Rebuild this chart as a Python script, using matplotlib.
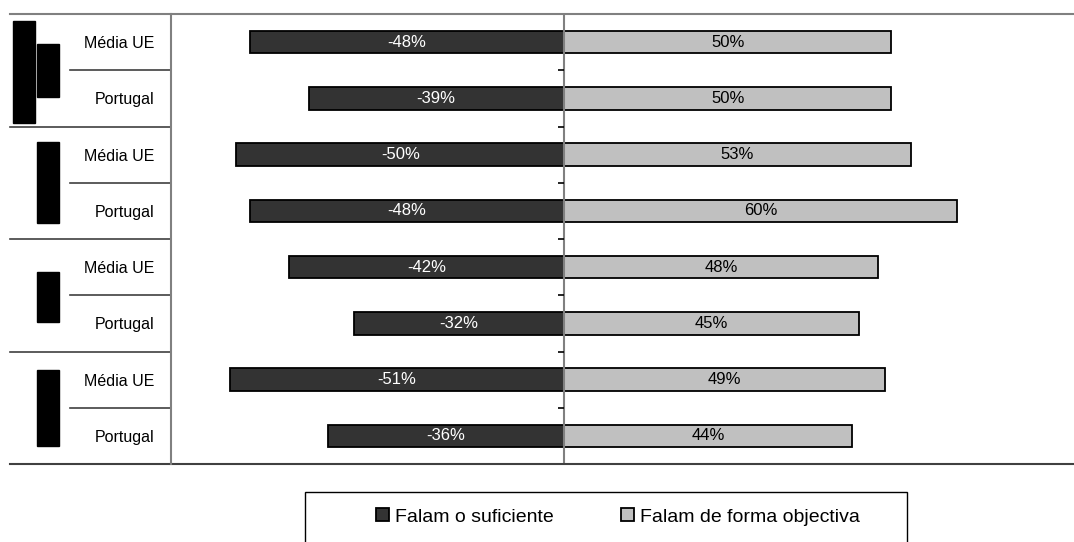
import matplotlib.pyplot as plt
from matplotlib.patches import Rectangle
import matplotlib.transforms as mtransforms

plt.rcParams['font.family'] = ['Liberation Sans', 'DejaVu Sans']

categories = ['Média UE', 'Portugal', 'Média UE', 'Portugal',
              'Média UE', 'Portugal', 'Média UE', 'Portugal']
suficiente = [-48, -39, -50, -48, -42, -32, -51, -36]
objectiva = [50, 50, 53, 60, 48, 45, 49, 44]
series_names = ['Falam o suficiente', 'Falam de forma objectiva']

W, H = 1074, 542
fig = plt.figure(figsize=(W / 100, H / 100), dpi=100)
ax = fig.add_axes([171 / W, 1 - 464 / H, (W - 171) / W, 450 / H])

y = list(range(len(categories)))
b1 = ax.barh(y, suficiente, height=0.4, color='#333333', edgecolor='black',
             linewidth=1.3, label=series_names[0])
b2 = ax.barh(y, objectiva, height=0.4, color='#c0c0c0', edgecolor='black',
             linewidth=1.3, label=series_names[1])
ax.bar_label(b1, labels=[f'{v}%' for v in suficiente], label_type='center',
             color='white', fontsize=12)
ax.bar_label(b2, labels=[f'{v}%' for v in objectiva], label_type='center',
             color='black', fontsize=12)

ax.set_xlim(-60.0, 77.9)
ax.set_ylim(len(categories) - 0.5, -0.5)
ax.set_xticks([])
ax.set_yticks(y)
ax.set_yticklabels(categories, fontsize=11.5)
ax.tick_params(axis='y', length=0, pad=12)
for lab in ax.get_yticklabels():
    lab.set_horizontalalignment('right')

for s in ['right', 'bottom', 'top']:
    ax.spines[s].set_visible(False)
ax.spines['left'].set_color('#808080')
ax.spines['left'].set_linewidth(1.5)

# centre line with small ticks at category boundaries
ax.axvline(0, color='#808080', linewidth=1.5)
bounds = [i + 0.5 for i in range(len(categories) - 1)]
ax.plot([0] * len(bounds), bounds, linestyle='none', marker=0,
        markersize=4, color='black', markeredgewidth=1.2)

# separators on the category axis
trans = mtransforms.blended_transform_factory(ax.transAxes, ax.transData)
x_far = (10 - 171) / (W - 171)
x_near = (70 - 171) / (W - 171)
ax.plot([x_far, 1], [-0.5, -0.5], transform=trans, color='#808080',
        linewidth=1.5, clip_on=False)
ax.plot([x_far, 1], [7.5, 7.5], transform=trans, color='#404040',
        linewidth=1.5, clip_on=False)
for b in [1.5, 3.5, 5.5]:
    ax.plot([x_far, 0], [b, b], transform=trans, color='#404040',
            linewidth=1.2, clip_on=False)
for b in [0.5, 2.5, 4.5, 6.5]:
    ax.plot([x_near, 0], [b, b], transform=trans, color='#404040',
            linewidth=1.2, clip_on=False)

# blacked-out group labels
for x0, x1, y0, y1 in [(13, 35, 21, 123), (37, 59, 44, 97), (37, 59, 142, 223),
                       (37, 59, 272, 322), (37, 59, 370, 446)]:
    fig.patches.append(Rectangle((x0 / W, 1 - y1 / H), (x1 - x0) / W, (y1 - y0) / H,
                                 transform=fig.transFigure, color='black'))

# legend box
fig.patches.append(Rectangle((305 / W, -0.02), 602 / W, 50 / H + 0.02,
                             transform=fig.transFigure, facecolor='white',
                             edgecolor='black', linewidth=1.0))
fig.legend(handles=[b1, b2], loc='center', bbox_to_anchor=(618 / W, 1 - 517 / H),
           ncol=2, frameon=False, fontsize=14, handlelength=0.65, handleheight=0.65,
           handletextpad=0.3, columnspacing=3.5)

fig.savefig('out.png', dpi=100)
